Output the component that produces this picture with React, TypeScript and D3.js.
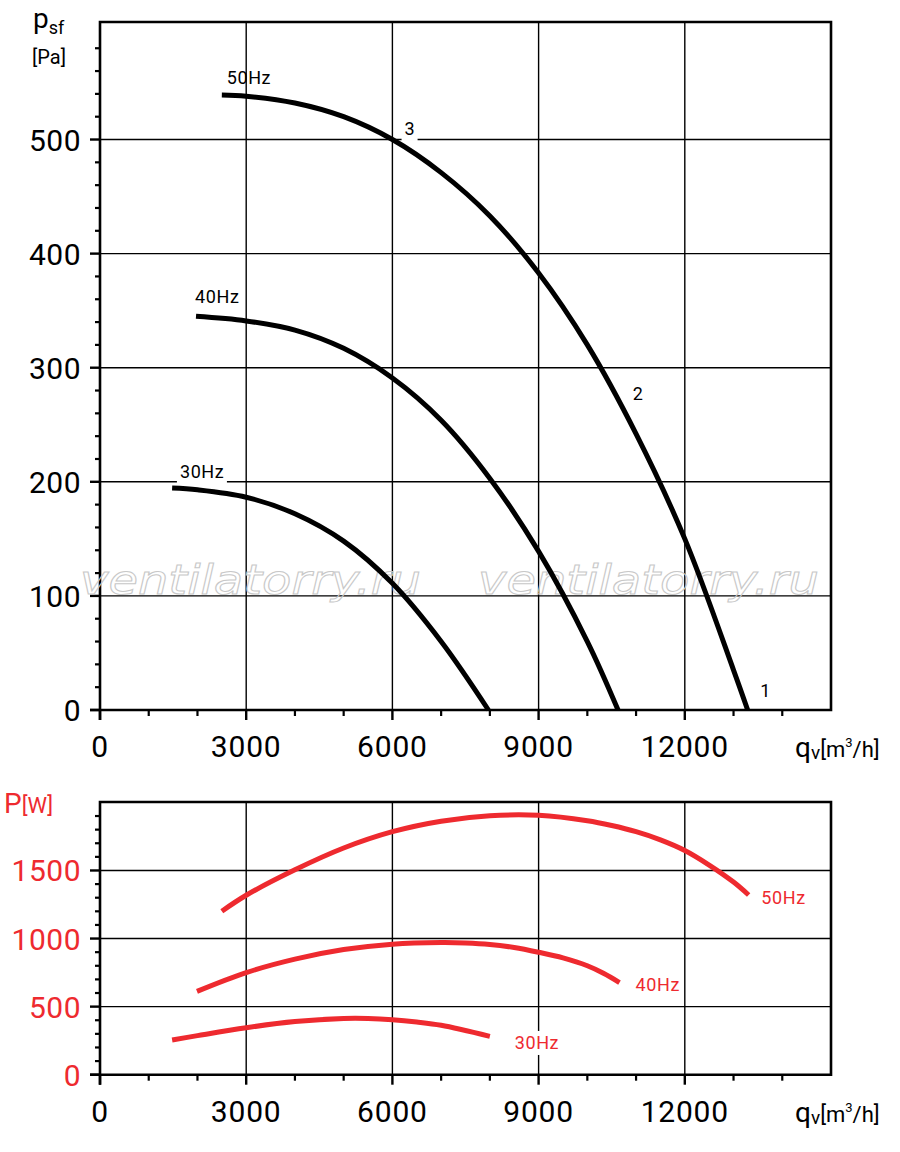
import * as d3 from 'd3';

// pressure curves, q [m3/h] -> psf [Pa]
const ps50: [number, number][] = [
  [2500, 539], [3000, 538], [4000, 532], [5000, 520], [6000, 500], [7000, 471],
  [8000, 433], [9000, 383], [10000, 320], [11000, 242], [12000, 150], [13000, 35], [13290, 0],
];
const ps40: [number, number][] = [
  [1970, 345], [3000, 341], [4000, 333], [5000, 317], [6000, 291], [7000, 254],
  [8000, 203], [9000, 139], [10000, 60], [10630, 0],
];
const ps30: [number, number][] = [
  [1480, 194.5], [2000, 193], [3000, 186.5], [4000, 172], [5000, 148],
  [6000, 111], [7000, 60], [7970, 0],
];

// power curves, q [m3/h] -> P [W]
const pw50: [number, number][] = [
  [2500, 1201], [3000, 1318], [4000, 1505], [5000, 1665], [6000, 1785], [7000, 1862],
  [8000, 1902], [9000, 1905], [10000, 1865], [10500, 1830], [11000, 1785], [11500, 1725],
  [12000, 1647], [12500, 1540], [13000, 1415], [13310, 1320],
];
const pw40: [number, number][] = [
  [1990, 612], [3000, 750], [4000, 849], [5000, 919], [6000, 959], [7000, 971],
  [7500, 968], [8000, 957], [8500, 934], [9000, 899], [9500, 858], [10000, 800],
  [10330, 745], [10660, 677],
];
const pw30: [number, number][] = [
  [1480, 255], [2000, 287], [3000, 345], [4000, 390], [5000, 413], [5500, 413],
  [6000, 404], [6500, 387], [7000, 363], [8000, 282],
];

const qTicks = [0, 3000, 6000, 9000, 12000];
const qMinor = d3.range(1000, 15000, 1000).filter(v => v % 3000 !== 0);
const psTicks = [0, 100, 200, 300, 400, 500];
const psMinor = d3.range(20, 600, 20).filter(v => v % 100 !== 0);
const pwTicks = [0, 500, 1000, 1500];
const pwMinor = d3.range(100, 2000, 100).filter(v => v % 500 !== 0);

// curve labels: [text, q, value]
const psLabels: [string, number, number][] = [
  ['50Hz', 2600, 549], ['40Hz', 1950, 357], ['30Hz', 1640, 203],
  ['3', 6250, 504], ['2', 10930, 272], ['1', 13550, 11],
];
const pwLabels: [string, number, number][] = [
  ['50Hz', 13570, 1255], ['40Hz', 10990, 615], ['30Hz', 8510, 189],
];

const RED = '#ee2a2f';
const FONT = 'Roboto, sans-serif';

const x = d3.scaleLinear([0, 15000], [100, 831]);
const yTop = d3.scaleLinear([0, 603], [710, 22]);
const yBot = d3.scaleLinear([0, 2003], [1074.7, 802]);

const line = (y: d3.ScaleLinear<number, number>) =>
  d3.line<[number, number]>()
    .x(d => x(d[0]))
    .y(d => y(d[1]))
    .curve(d3.curveCatmullRom.alpha(0.5));

function Frame({ y, ticks, minor, color, gridMax }: {
  y: d3.ScaleLinear<number, number>;
  ticks: number[];
  minor: number[];
  color: string;
  gridMax: number;
}) {
  const y0 = y(0);
  const yTopPx = y.range()[1];
  const xr = x.range()[1];
  return (
    <g>
      {/* grid */}
      {ticks.filter(t => t > 0 && t <= gridMax).map(t => (
        <line key={'h' + t} x1={100} x2={xr} y1={y(t)} y2={y(t)} stroke="#000" strokeWidth={1.4} />
      ))}
      {qTicks.filter(t => t > 0).map(t => (
        <line key={'v' + t} x1={x(t)} x2={x(t)} y1={yTopPx} y2={y0} stroke="#000" strokeWidth={1.4} />
      ))}
      {/* ticks */}
      {ticks.map(t => (
        <line key={'yt' + t} x1={90} x2={100} y1={y(t)} y2={y(t)} stroke="#000" strokeWidth={2.4} />
      ))}
      {minor.map(t => (
        <line key={'ym' + t} x1={95} x2={100} y1={y(t)} y2={y(t)} stroke="#000" strokeWidth={2.2} />
      ))}
      {qTicks.map(t => (
        <line key={'xt' + t} x1={x(t)} x2={x(t)} y1={y0} y2={y0 + 10} stroke="#000" strokeWidth={2.4} />
      ))}
      {qMinor.map(t => (
        <line key={'xm' + t} x1={x(t)} x2={x(t)} y1={y0} y2={y0 + 6} stroke="#000" strokeWidth={2.2} />
      ))}
      {/* frame */}
      <path
        d={`M100,${y0 + 10}V${yTopPx}H${xr}V${y0}H90`}
        fill="none" stroke="#000" strokeWidth={2.6}
      />
      {/* tick labels */}
      {ticks.map(t => (
        <text key={'yl' + t} x={81} y={y(t) + 11} textAnchor="end" fontSize={30}
          fontFamily={FONT} fill={color} letterSpacing={0.5}>{t}</text>
      ))}
      {qTicks.map(t => (
        <text key={'xl' + t} x={x(t)} y={y0 + 47} textAnchor="middle" fontSize={30}
          fontFamily={FONT} fill="#000" letterSpacing={0.8}>{t}</text>
      ))}
      <text x={795} y={y0 + 47} fontFamily={FONT} fill="#000">
        <tspan fontSize={28}>q</tspan>
        <tspan fontSize={19} dy={2}>v</tspan>
        <tspan fontSize={22} dy={-2}>[m</tspan>
        <tspan fontSize={13} dy={-10}>3</tspan>
        <tspan fontSize={22} dy={10}>/h]</tspan>
      </text>
    </g>
  );
}

function Label({ text, px, py, color, bg }: { text: string; px: number; py: number; color: string; bg?: boolean }) {
  const w = text.length > 1 ? 46 : 12;
  return (
    <g>
      {bg && <rect x={px - 3} y={py - 18} width={w + 4} height={24} fill="#fff" />}
      <text x={px} y={py} fontSize={18} fontFamily={FONT} fill={color} letterSpacing={0.6}>{text}</text>
    </g>
  );
}

export default function App() {
  const lTop = line(yTop);
  const lBot = line(yBot);
  const bgTop = new Set(['30Hz', '3']);
  return (
    <div style={{ position: 'absolute', left: 0, top: 0 }}>
      <svg width={900} height={1152} style={{ display: 'block', background: '#fff' }}>
        <Frame y={yTop} ticks={psTicks} minor={psMinor} color="#000" gridMax={500} />
        <Frame y={yBot} ticks={pwTicks} minor={pwMinor} color={RED} gridMax={1500} />

        {/* watermark */}
        {[80, 478].map(wx => (
          <text key={wx} x={wx} y={594} fontSize={41} fontStyle="italic"
            fontFamily="DejaVu Sans, sans-serif" fill="none" stroke="#c8c8c8" strokeWidth={1}
            textLength={341} lengthAdjust="spacingAndGlyphs">ventilatorry.ru</text>
        ))}

        {/* pressure curves */}
        {[ps50, ps40, ps30].map((d, i) => (
          <path key={'ps' + i} d={lTop(d) ?? ''} fill="none" stroke="#000" strokeWidth={5} />
        ))}
        {psLabels.map(([t, q, v]) => (
          <Label key={'pl' + t + q} text={t} px={x(q)} py={yTop(v)} color="#000" bg={bgTop.has(t)} />
        ))}

        {/* power curves */}
        {[pw50, pw40, pw30].map((d, i) => (
          <path key={'pw' + i} d={lBot(d) ?? ''} fill="none" stroke={RED} strokeWidth={5} />
        ))}
        {pwLabels.map(([t, q, v]) => (
          <Label key={'wl' + t} text={t} px={x(q)} py={yBot(v)} color={RED} bg={t === '30Hz'} />
        ))}

        {/* axis titles */}
        <text x={33} y={28} fontFamily={FONT} fill="#000">
          <tspan fontSize={28}>p</tspan>
          <tspan fontSize={18} dy={6}>sf</tspan>
        </text>
        <text x={32} y={64} fontFamily={FONT} fontSize={20} fill="#000">[Pa]</text>
        <text x={4} y={813} fontFamily={FONT} fill={RED}>
          <tspan fontSize={28}>P</tspan>
          <tspan fontSize={22}>[W]</tspan>
        </text>
      </svg>
    </div>
  );
}
